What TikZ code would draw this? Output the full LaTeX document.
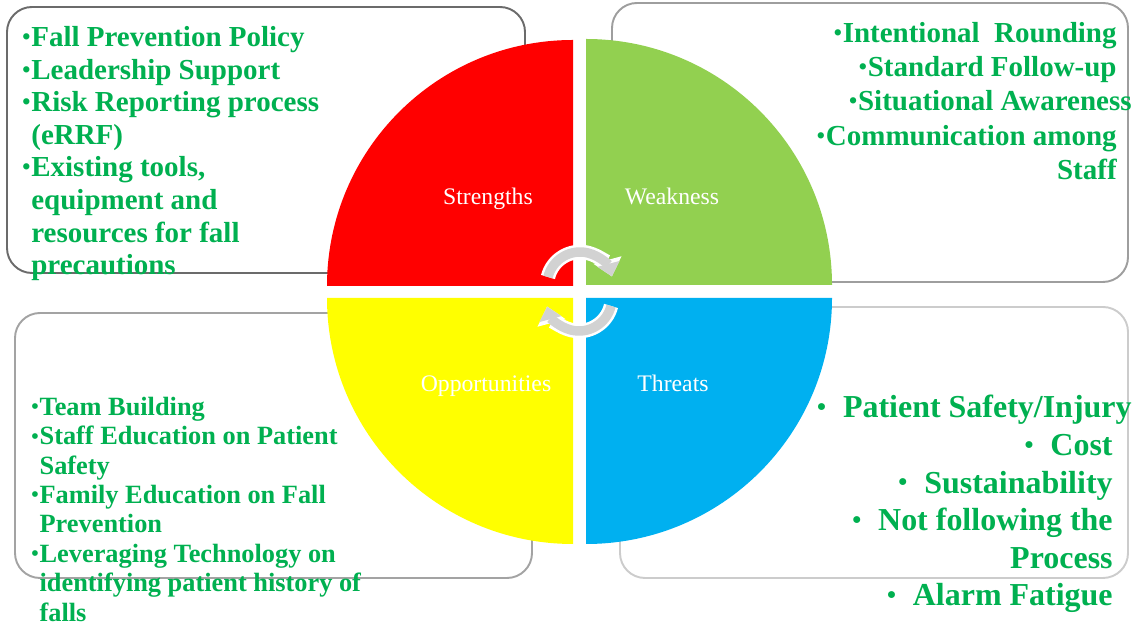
\documentclass[tikz,border=0pt]{standalone}
\usepackage{fontspec}
\setmainfont{Liberation Serif}
\usepackage{xcolor}
\definecolor{SwotRed}{RGB}{255,0,0}
\definecolor{SwotGreen}{RGB}{146,208,80}
\definecolor{SwotYellow}{RGB}{255,255,0}
\definecolor{SwotBlue}{RGB}{0,176,240}
\definecolor{ItemGreen}{RGB}{0,176,80}
\definecolor{CycleGray}{RGB}{210,210,210}
\usetikzlibrary{positioning}
\usetikzlibrary{arrows.meta}
\newcommand\dotmark{\raisebox{0.07em}{\scalebox{0.8}{\textbullet}}\kern0.5pt}
\newcommand\contline{\phantom{\dotmark}}

\begin{document}
\begin{tikzpicture}[
    x = 0.02cm, y = 0.02cm
    , box/.style = {
      , rounded corners = 0.5cm
      , line width = 1.1pt
    }
    , items/.style = {
      , inner sep = 0pt
      , text = ItemGreen
    }
    , quadlabel/.style = {
      , anchor = base
      , text = white
      , font = \fontsize{13.5}{16}\selectfont
    }
    , cycleback/.style = {
      , draw = white
      , line width = 0.29cm
      , -{Triangle[width=0.56cm, length=0.34cm]}
    }
    , cyclearrow/.style = {
      , draw = CycleGray
      , line width = 0.19cm
      , -{Triangle[width=0.44cm, length=0.26cm]}
    }
    ]
    \useasboundingbox (0,0) rectangle (1136,625);

    \def\rad{246}
    \def\crad{33}

    % boxes behind the circle
    \draw[box, draw=black!58] (7,352) rectangle (525,618);
    \draw[box, draw=black!38] (612,343) rectangle (1128,622);
    \draw[box, draw=black!36] (15,47) rectangle (532,312);
    \draw[box, draw=black!20] (620,47) rectangle (1128,318);

    \fill[SwotRed] (573,339) -- ++(0,\rad) arc[start angle=90, end angle=180, radius=\rad] -- cycle;
    \fill[SwotGreen] (586,340) -- ++(\rad,0) arc[start angle=0, end angle=90, radius=\rad] -- cycle;
    \fill[SwotYellow] (573,327) -- ++(-\rad,0) arc[start angle=180, end angle=270, radius=\rad] -- cycle;
    \fill[SwotBlue] (586,327) -- ++(0,-\rad) arc[start angle=270, end angle=360, radius=\rad] -- cycle;

    \node[quadlabel] (strengths) at (488,420) {Strengths};
    \node[quadlabel] (weakness) at (672,420) {Weakness};
    \node[quadlabel] (opportunities) at (486,233) {Opportunities};
    \node[quadlabel] (threats) at (673,233) {Threats};

    \foreach \cx/\cy/\sa/\ea in {580/340/166/15, 579/327/-14/-165} {
      \draw[cycleback] (\cx,\cy) ++(\sa:\crad) arc[start angle=\sa, end angle=\ea, radius=\crad];
      \draw[cyclearrow] (\cx,\cy) ++(\sa:\crad) arc[start angle=\sa, end angle=\ea, radius=\crad];
    }

    \node[items, anchor=north west, align=left,
      font=\fontsize{16.5}{18.55}\selectfont\bfseries] (strengthitems) at (22,599) {%
      \dotmark Fall Prevention Policy\\
      \dotmark Leadership Support\\
      \dotmark Risk Reporting process\\
      \contline(eRRF)\\
      \dotmark Existing tools,\\
      \contline equipment and\\
      \contline resources for fall\\
      \contline precautions};

    \node[items, anchor=north east, align=right,
      font=\fontsize{16.5}{19.5}\selectfont\bfseries] (weaknessitems) at (1117,603) {%
      \dotmark Intentional\ \ Rounding\\
      \dotmark Standard Follow-up\\
      \dotmark Situational\ Awareness\kern-0.3cm\mbox{}\\
      \dotmark Communication\ among\\
      Staff};

    \node[items, anchor=north west, align=left,
      font=\fontsize{15}{16.7}\selectfont\bfseries] (opportunityitems) at (31,228) {%
      \dotmark Team Building\\
      \dotmark Staff Education on Patient\\
      \contline Safety\\
      \dotmark Family Education on Fall\\
      \contline Prevention\\
      \dotmark Leveraging Technology on\\
      \contline identifying patient history of\\
      \contline falls};

    \node[items, anchor=north east, align=right,
      font=\fontsize{18.2}{21.4}\selectfont\bfseries] (threatitems) at (1113,230) {%
      \dotmark\ \ Patient Safety/Injury\kern-0.38cm\mbox{}\\
      \dotmark\ \ Cost\\
      \dotmark\ \ Sustainability\\
      \dotmark\ \ Not following the\\
      Process\\
      \dotmark\ \ Alarm Fatigue};
  \end{tikzpicture}
\end{document}
